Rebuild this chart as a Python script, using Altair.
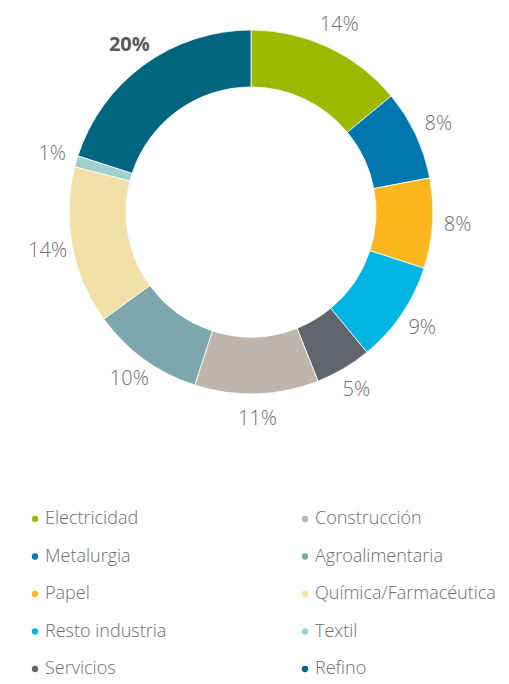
import altair as alt
import pandas as pd

categories = ["Electricidad", "Metalurgia", "Papel", "Resto industria", "Servicios",
              "Construcción", "Agroalimentaria", "Química/Farmacéutica", "Textil", "Refino"]
values = [14, 8, 8, 9, 5, 11, 10, 14, 1, 20]
colors = ["#9cb800", "#0077ae", "#fdb71e", "#00b5e2", "#62666c",
          "#beb6ad", "#7ba7ad", "#f3e0a8", "#9ed1cb", "#00657f"]
labels = [f"{v}%" for v in values]
bold_category = "Refino"

df = pd.DataFrame({
    "cat": categories,
    "value": values,
    "label": labels,
    "idx": list(range(len(categories))),
})

TEXT = "#6d6e71"
FONT = "Open Sans"

base = alt.Chart(df)

arc = base.mark_arc(radius=182, radius2=125, stroke="white", strokeWidth=0.8).encode(
    theta=alt.Theta("value:Q", stack=True, scale=alt.Scale(range=[0, 6.283185307])),
    order=alt.Order("idx:Q"),
    color=alt.Color(
        "cat:N",
        scale=alt.Scale(domain=categories, range=colors),
        legend=alt.Legend(
            title=None,
            orient="none",
            legendX=18,
            legendY=502,
            columns=2,
            symbolType="circle",
            symbolSize=40,
            symbolStrokeWidth=0,
            labelFont=FONT,
            labelFontSize=18,
            labelFontWeight=300,
            labelColor=TEXT,
            labelOffset=1,
            rowPadding=19.5,
            columnPadding=129,
            labelLimit=300,
        ),
    ),
)

text_normal = base.mark_text(radius=207, font=FONT, fontSize=20, fontWeight=300, color=TEXT).encode(
    theta=alt.Theta("value:Q", stack=True),
    order=alt.Order("idx:Q"),
    text="label:N",
    opacity=alt.condition(alt.datum.cat == bold_category, alt.value(0), alt.value(1)),
)

text_bold = base.mark_text(radius=207, font=FONT, fontSize=20, fontWeight="bold", color="#58595b").encode(
    theta=alt.Theta("value:Q", stack=True),
    order=alt.Order("idx:Q"),
    text="label:N",
    opacity=alt.condition(alt.datum.cat == bold_category, alt.value(1), alt.value(0)),
)

chart = alt.layer(arc, text_normal, text_bold).properties(
    width=486, height=408, padding=0
).configure_view(stroke=None).configure(background="white")

chart.save("out.html", embed_options={"renderer": "svg", "actions": False})
